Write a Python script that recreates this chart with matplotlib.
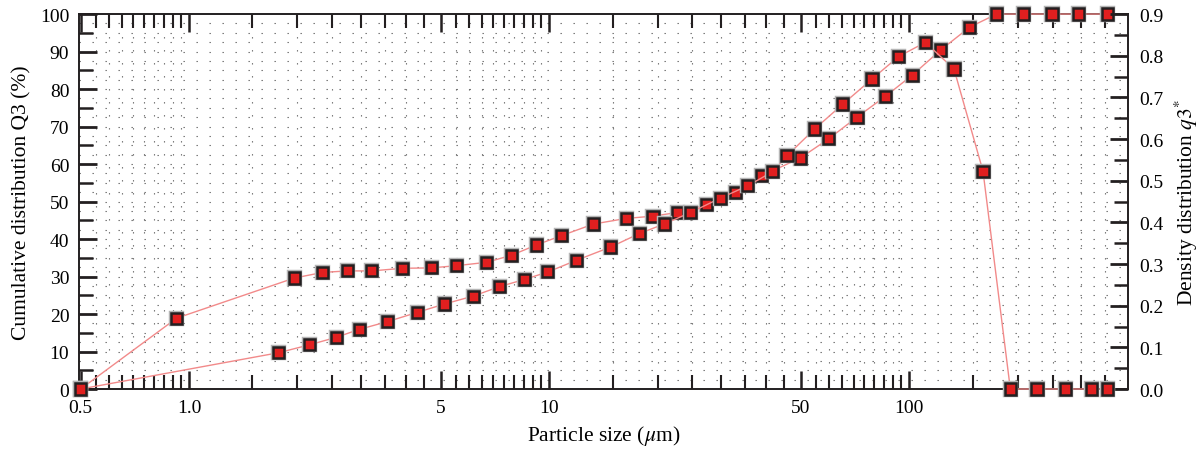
# particle size distribution: cumulative Q3 (left) and density q3* (right)
import numpy as np
import matplotlib
matplotlib.use('Agg')
import matplotlib.pyplot as plt
import matplotlib.patheffects as pe
from matplotlib.ticker import FixedLocator, NullFormatter

plt.rcParams['font.family'] = ['Liberation Serif', 'DejaVu Serif']
plt.rcParams['mathtext.fontset'] = 'stix'

# cumulative distribution Q3 (%)
cum_size = [0.5, 0.924, 1.961, 2.352, 2.760, 3.217, 3.923, 4.701, 5.542, 6.713,
            7.877, 9.203, 10.82, 13.28, 16.37, 19.42, 22.78, 27.30, 32.86, 38.98,
            49.80, 59.69, 71.56, 85.96, 101.9, 122.2, 147.1, 174.8, 207.4, 249.1,
            294.2, 354.8]
cum_q3 = [0.0, 18.9, 29.6, 31.1, 31.5, 31.5, 32.2, 32.3, 32.9, 33.8,
          35.7, 38.4, 40.9, 44.0, 45.5, 46.1, 47.1, 49.1, 52.3, 56.9,
          61.6, 66.7, 72.5, 78.1, 83.7, 90.4, 96.5, 100, 100, 100,
          100, 100]

# density distribution q3*
dens_size = [0.5, 1.770, 2.159, 2.561, 2.967, 3.564, 4.307, 5.119, 6.151, 7.297,
             8.542, 9.918, 11.91, 14.84, 17.78, 20.86, 24.75, 29.85, 35.64, 41.82,
             45.74, 54.58, 65.43, 78.77, 93.40, 110.8, 133.1, 160.2, 190.8, 226.3,
             271.3, 320.3, 354.2]
dens_q3 = [0.0, 0.087, 0.106, 0.124, 0.143, 0.162, 0.184, 0.204, 0.223, 0.246,
           0.263, 0.281, 0.309, 0.341, 0.373, 0.396, 0.424, 0.458, 0.488, 0.522,
           0.560, 0.624, 0.684, 0.744, 0.798, 0.832, 0.768, 0.523, 0.0, 0.0,
           0.0, 0.0, 0.0]

x_major = [0.5, 1, 5, 10, 50, 100]
x_major_labels = ['0.5', '1.0', '5', '10', '50', '100']
x_minor = ([0.55, 0.6, 0.65, 0.7, 0.75, 0.8, 0.85, 0.9, 0.95]
           + [1.5, 2, 2.5, 3, 3.5, 4, 4.5]
           + [5.5, 6, 6.5, 7, 7.5, 8, 8.5, 9, 9.5]
           + [15, 20, 25, 30, 35, 40, 45]
           + [55, 60, 65, 70, 75, 80, 85, 90, 95]
           + [150, 200, 250, 300, 350])

line_col = '#f28a8a'
face_col = '#e11f1f'
edge_col = '#231f20'
halo = [pe.withStroke(linewidth=3.2, foreground='#b5b5b5')]

fig = plt.figure(figsize=(12.03, 4.56), dpi=100)
ax = fig.add_axes([0.0657, 0.1447, 0.872, 0.8223])
ax2 = ax.twinx()

ax.set_xscale('log')
ax.set_xlim(0.495, 405)
ax.set_ylim(0, 100)
ax2.set_ylim(0, 0.9)

# dotted grid
for yv in np.arange(2.5, 100, 2.5):
    ax.axhline(yv, color='#666666', lw=0.8, ls=(0, (1.2, 10.5)), zorder=1)
for xv in x_minor:
    ax.axvline(xv, color='#666666', lw=0.8, ls=(0, (1.2, 10.5)), zorder=1)

# series
ax.plot(cum_size, cum_q3, color=line_col, lw=1.0, zorder=3, clip_on=False)
ax.plot(cum_size, cum_q3, ls='none', marker='s', ms=8, mfc=face_col,
        mec=edge_col, mew=1.8, zorder=4, clip_on=False, path_effects=halo)
ax2.plot(dens_size, dens_q3, color=line_col, lw=1.0, zorder=3, clip_on=False)
ax2.plot(dens_size, dens_q3, ls='none', marker='s', ms=8, mfc=face_col,
         mec=edge_col, mew=1.8, zorder=4, clip_on=False, path_effects=halo)

# x axis ticks
ax.xaxis.set_major_locator(FixedLocator(x_major))
ax.set_xticklabels(x_major_labels)
ax.xaxis.set_minor_locator(FixedLocator(x_minor))
ax.xaxis.set_minor_formatter(NullFormatter())
ax.tick_params(axis='x', which='major', direction='in', top=True,
               length=13, width=1.8, labelsize=14, pad=7, color='#231f20')
ax.tick_params(axis='x', which='minor', direction='in', top=True,
               length=10, width=1.5, color='#231f20')

# left y ticks
ax.set_yticks(np.arange(0, 101, 10))
ax.yaxis.set_minor_locator(FixedLocator(np.arange(5, 100, 10)))
ax.tick_params(axis='y', which='major', direction='in', right=False,
               length=13, width=2.0, labelsize=14, pad=7, color='#231f20')
ax.tick_params(axis='y', which='minor', direction='in', right=False,
               length=10, width=1.8, color='#231f20')

# right y ticks
ax2.set_yticks(np.round(np.arange(0, 0.91, 0.1), 1))
ax2.set_yticklabels(['%.1f' % v for v in np.arange(0, 0.91, 0.1)])
ax2.yaxis.set_minor_locator(FixedLocator(np.arange(0.05, 0.9, 0.1)))
ax2.tick_params(axis='y', which='major', direction='in', length=13,
                width=2.0, labelsize=14, pad=8, color='#231f20')
ax2.tick_params(axis='y', which='minor', direction='in', length=10,
                width=1.8, color='#231f20')

for s in ax.spines.values():
    s.set_linewidth(1.4)
    s.set_color('#231f20')
ax.spines['right'].set_visible(False)
for k in ['top', 'bottom', 'left']:
    ax2.spines[k].set_visible(False)
ax2.spines['right'].set_linewidth(1.4)
ax2.spines['right'].set_color('#231f20')

ax.set_xlabel(r'Particle size ($\mu$m)', fontsize=15.5, labelpad=5)
ax.set_ylabel('Cumulative distribution Q3 (%)', fontsize=15.5, labelpad=6)
ax2.set_ylabel(r'Density distribution $\mathit{q3}^{*}$', fontsize=15.5, labelpad=7)

fig.savefig('out.png', dpi=100)
